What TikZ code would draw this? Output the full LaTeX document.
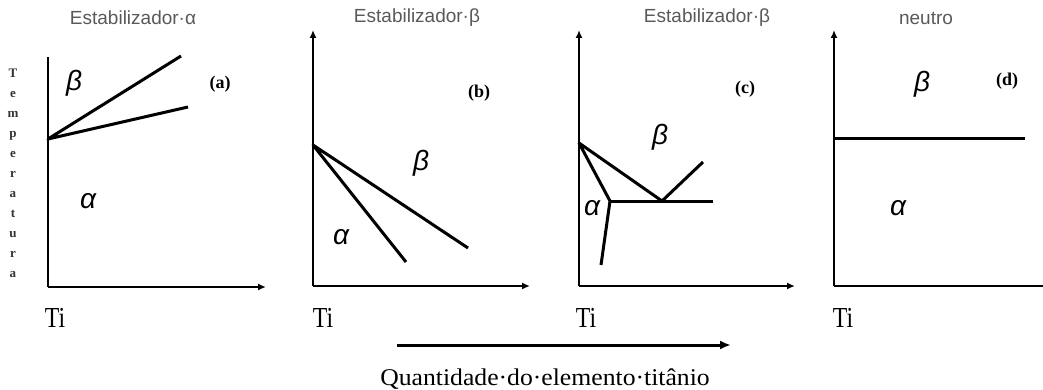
\documentclass[tikz,border=0pt]{standalone}
\usepackage{fontspec}
\setmainfont{Liberation Serif}
\newfontfamily\arialf{Liberation Sans}
\usetikzlibrary{arrows.meta}
\begin{document}
\begin{tikzpicture}[x=1pt,y=-1pt,
  axisline/.style={line width=2.4pt},
  axisarrow/.style={line width=2.4pt,-{Latex[length=8pt,width=7pt]}},
  phase/.style={line width=3pt,line join=round},
  ttl/.style={font=\arialf\fontsize{19}{21}\selectfont,text=black!65,inner sep=0pt},
  greek/.style={font=\arialf\itshape\fontsize{28}{30}\selectfont,inner sep=0pt},
  tag/.style={font=\bfseries\fontsize{18}{20}\selectfont,inner sep=0pt},
  tilab/.style={font=\fontsize{29}{31}\selectfont,inner sep=0pt,xscale=0.82},
]
\useasboundingbox (0,0) rectangle (1043,390);

% ---------- panel (a)
\node[ttl] (ta) at (133,18) {Estabilizador·α};
\node[font=\bfseries\fontsize{13}{20}\selectfont,align=center,inner sep=0pt,text=black!80] (temp) at (13,173)
  {T\\e\\m\\p\\e\\r\\a\\t\\u\\r\\a};
\coordinate (a0) at (48,287);
\coordinate (atop) at (48,57);
\coordinate (aend) at (266,287);
\draw[axisline] (atop) -- (a0);
\draw[axisarrow] (a0) -- (aend);
\coordinate (aT) at (48,139);
\coordinate (a1) at (181,56);
\coordinate (a2) at (188,107);
\draw[phase] (a1) -- (aT) -- (a2);
\node[greek] (ba) at (74,83) {β};
\node[greek] (aa) at (88,201) {α};
\node[tag] (la) at (220,84) {(a)};
\node[tilab] (tia) at (55,318) {Ti};

% ---------- panel (b)
\node[ttl] (tb) at (417,18) {Estabilizador·β};
\coordinate (b0) at (313,286);
\coordinate (btop) at (313,30);
\coordinate (bend) at (530,286);
\draw[axisarrow] (b0) -- (btop);
\draw[axisarrow] (b0) -- (bend);
\coordinate (bT) at (313,145);
\coordinate (b1) at (406,262);
\coordinate (b2) at (468,248);
\draw[phase] (b1) -- (bT) -- (b2);
\node[greek] (bb) at (421,163) {β};
\node[greek] (ab) at (341,237) {α};
\node[tag] (lb) at (479,93) {(b)};
\node[tilab] (tib) at (323,318) {Ti};

% ---------- panel (c)
\node[ttl] (tc) at (707,18) {Estabilizador·β};
\coordinate (c0) at (579,286);
\coordinate (ctop) at (579,30);
\coordinate (cend) at (795,286);
\draw[axisarrow] (c0) -- (ctop);
\draw[axisarrow] (c0) -- (cend);
\coordinate (cT) at (579,143);
\coordinate (cJ) at (610,201);
\coordinate (cE) at (662,201);
\coordinate (cR) at (713,201);
\coordinate (cU) at (703,162);
\coordinate (cD) at (601,265);
\draw[phase] (cD) -- (cJ) -- (cT) -- (cE);
\draw[phase] (cJ) -- (cR);
\draw[phase] (cE) -- (cU);
\node[greek] (bc) at (660,137) {β};
\node[greek] (ac) at (592,208) {α};
\node[tag] (lc) at (745,89) {(c)};
\node[tilab] (tic) at (586,318) {Ti};

% ---------- panel (d)
\node[ttl] (td) at (926,18) {neutro};
\coordinate (d0) at (834,286);
\coordinate (dtop) at (834,30);
\coordinate (dend) at (1043,286);
\draw[axisarrow] (d0) -- (dtop);
\draw[axisline] (d0) -- (dend);
\coordinate (dL) at (834,139);
\coordinate (dR) at (1025,139);
\draw[phase] (dL) -- (dR);
\node[greek] (bd) at (922,84) {β};
\node[greek] (ad) at (898,208) {α};
\node[tag] (ld) at (1007,81) {(d)};
\node[tilab] (tid) at (843,318) {Ti};

% ---------- bottom arrow
\coordinate (qs) at (397,345);
\coordinate (qe) at (731,345);
\draw[line width=3pt,-{Latex[length=11pt,width=9pt]}] (qs) -- (qe);
\node[font=\fontsize{24}{26}\selectfont,inner sep=0pt,xscale=1.07] (qt) at (545,379) {Quantidade·do·elemento·titânio};
\end{tikzpicture}
\end{document}
